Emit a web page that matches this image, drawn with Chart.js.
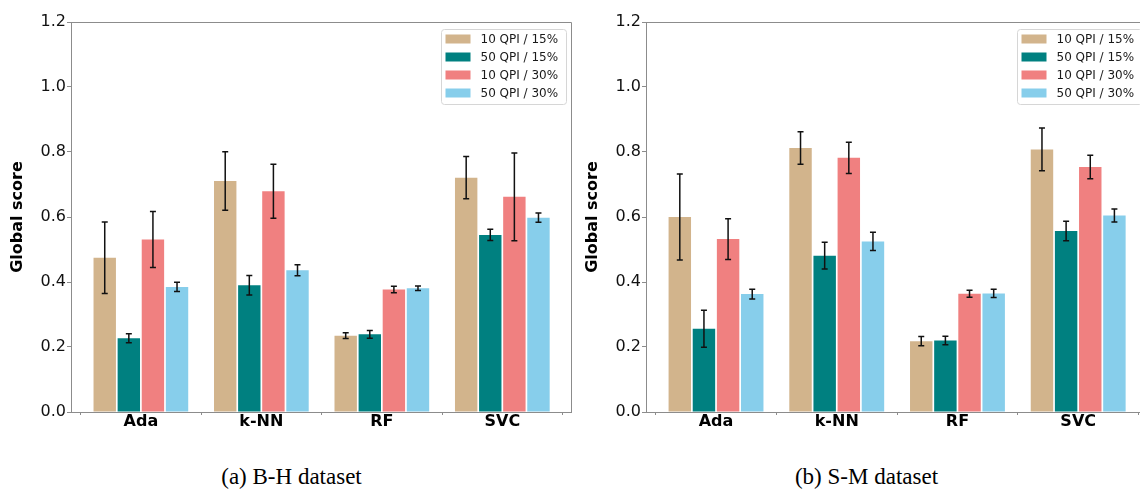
<!DOCTYPE html>
<html>
<head>
<meta charset="utf-8">
<script src="https://cdn.jsdelivr.net/npm/chart.js@4.4.0/dist/chart.umd.min.js"></script>
<style>
  html, body { margin: 0; padding: 0; background: #fff; width: 1140px; height: 489px; overflow: hidden; }
  #wrap { position: relative; width: 1140px; height: 489px; overflow: hidden; }
  canvas { position: absolute; top: 0; }
  #cL { left: 0; }
  #cR { left: 575px; }
  .cap { position: absolute; top: 465px; width: 300px; text-align: center; font-family: "Liberation Serif", "Times New Roman", serif; font-size: 23px; line-height: 24px; color: #000; }
</style>
</head>
<body>
<div id="wrap">
  <canvas id="cL" width="576" height="445"></canvas>
  <canvas id="cR" width="576" height="445"></canvas>
  <div class="cap" style="left:141.5px">(a) B-H dataset</div>
  <div class="cap" style="left:716.5px">(b) S-M dataset</div>
</div>
<script>
// ---- data ----
const categories = ['Ada', 'k-NN', 'RF', 'SVC'];
const seriesLabels = ['10 QPI / 15%', '50 QPI / 15%', '10 QPI / 30%', '50 QPI / 30%'];
const yTickValues = [0.0, 0.2, 0.4, 0.6, 0.8, 1.0, 1.2];
const yAxisTitle = 'Global score';

// (a) B-H dataset
const bhQ10p15 = [0.475, 0.711, 0.235, 0.721];
const bhQ10p15Err = [0.110, 0.090, 0.009, 0.065];
const bhQ50p15 = [0.227, 0.390, 0.239, 0.545];
const bhQ50p15Err = [0.014, 0.030, 0.012, 0.017];
const bhQ10p30 = [0.531, 0.679, 0.377, 0.662];
const bhQ10p30Err = [0.086, 0.083, 0.010, 0.135];
const bhQ50p30 = [0.385, 0.436, 0.381, 0.598];
const bhQ50p30Err = [0.014, 0.017, 0.007, 0.014];

// (b) S-M dataset
const smQ10p15 = [0.600, 0.812, 0.218, 0.808];
const smQ10p15Err = [0.132, 0.050, 0.014, 0.066];
const smQ50p15 = [0.256, 0.481, 0.220, 0.557];
const smQ50p15Err = [0.057, 0.041, 0.013, 0.030];
const smQ10p30 = [0.532, 0.782, 0.364, 0.754];
const smQ10p30Err = [0.063, 0.048, 0.011, 0.036];
const smQ50p30 = [0.363, 0.525, 0.365, 0.605];
const smQ50p30Err = [0.015, 0.028, 0.013, 0.020];

// ---- style ----
const seriesColors = ['#D2B48C', '#008080', '#F08080', '#87CEEB'];
const axisGray = '#8c8c8c';
const FONT = "'DejaVu Sans', sans-serif";

const errorBarPlugin = {
  id: 'errorBars',
  afterDatasetsDraw(chart) {
    const ctx = chart.ctx;
    const y = chart.scales.y;
    ctx.save();
    ctx.strokeStyle = '#111';
    ctx.lineWidth = 1.5;
    chart.data.datasets.forEach((ds, di) => {
      const meta = chart.getDatasetMeta(di);
      meta.data.forEach((bar, i) => {
        const v = ds.data[i].y, e = ds.errors[i];
        const yt = y.getPixelForValue(v + e), yb = y.getPixelForValue(v - e);
        const x = bar.x;
        ctx.beginPath();
        ctx.moveTo(x, yt); ctx.lineTo(x, yb);
        ctx.moveTo(x - 3, yt); ctx.lineTo(x + 3, yt);
        ctx.moveTo(x - 3, yb); ctx.lineTo(x + 3, yb);
        ctx.stroke();
      });
    });
    ctx.restore();
  }
};

const framePlugin = {
  id: 'frameAndLegend',
  afterDraw(chart) {
    const ctx = chart.ctx;
    const a = chart.chartArea;
    ctx.save();
    // top and right spines
    ctx.strokeStyle = axisGray;
    ctx.lineWidth = 1;
    ctx.beginPath();
    ctx.moveTo(Math.round(a.left) + 0.5, Math.round(a.top) + 0.5);
    ctx.lineTo(Math.round(a.right) + 0.5, Math.round(a.top) + 0.5);
    ctx.lineTo(Math.round(a.right) + 0.5, Math.round(a.bottom) + 0.5);
    ctx.stroke();
    // legend
    const w = 125, h = 75;
    const x0 = Math.round(a.right - 5.5 - w) + 0.5;
    const y0 = Math.round(a.top + 7) + 0.5;
    ctx.beginPath();
    if (ctx.roundRect) ctx.roundRect(x0, y0, w, h, 3); else ctx.rect(x0, y0, w, h);
    ctx.fillStyle = 'rgba(255,255,255,0.85)';
    ctx.fill();
    ctx.strokeStyle = '#d6d6d6';
    ctx.stroke();
    ctx.font = '12px ' + FONT;
    ctx.textBaseline = 'middle';
    ctx.textAlign = 'left';
    chart.data.datasets.forEach((ds, i) => {
      const cy = y0 + 9.5 + i * 18;
      ctx.fillStyle = ds.backgroundColor;
      ctx.fillRect(x0 + 4, cy - 4.5, 25, 9);
      ctx.fillStyle = '#1a1a1a';
      ctx.fillText(ds.label, x0 + 39, cy + 0.5);
    });
    ctx.restore();
  }
};

function makeChart(canvasId, seriesVals, seriesErrs, padRight) {
  const datasets = seriesVals.map((vals, s) => ({
    label: seriesLabels[s],
    data: vals.map((v, i) => ({ x: i, y: v })),
    errors: seriesErrs[s],
    backgroundColor: seriesColors[s],
    borderWidth: 0,
    categoryPercentage: 0.8,
    barPercentage: 0.93
  }));
  return new Chart(document.getElementById(canvasId), {
    type: 'bar',
    data: { datasets },
    plugins: [errorBarPlugin, framePlugin],
    options: {
      responsive: false,
      devicePixelRatio: 1,
      animation: false,
      layout: { padding: { left: 0, right: padRight, top: 22, bottom: 0 } },
      plugins: { legend: { display: false }, tooltip: { enabled: false } },
      scales: {
        x: {
          type: 'linear',
          offset: false,
          min: -0.58,
          max: 3.57,
          afterBuildTicks: (sc) => { sc.ticks = categories.map((c, i) => ({ value: i })); },
          afterFit: (sc) => { sc.height = 33; },
          grid: { display: true, drawOnChartArea: false, drawTicks: true, tickLength: 3, color: axisGray },
          border: { display: true, color: axisGray, width: 1 },
          ticks: {
            autoSkip: false,
            maxRotation: 0,
            padding: -1,
            color: '#000',
            font: { family: FONT, size: 16, weight: 'bold', lineHeight: 1 },
            callback: (v) => categories[v]
          }
        },
        y: {
          min: 0,
          max: 1.2,
          afterBuildTicks: (sc) => { sc.ticks = yTickValues.map(v => ({ value: v })); },
          afterFit: (sc) => { sc.width = 71; },
          grid: { display: true, drawOnChartArea: false, drawTicks: true, tickLength: 4, color: axisGray },
          border: { display: true, color: axisGray, width: 1 },
          ticks: {
            padding: 1,
            color: '#111',
            font: { family: FONT, size: 16 },
            callback: (v) => Number(v).toFixed(1)
          },
          title: {
            display: true,
            text: yAxisTitle,
            color: '#000',
            font: { family: FONT, size: 16, weight: 'bold' },
            padding: { top: 8, bottom: 0 }
          }
        }
      }
    }
  });
}

makeChart('cL',
  [bhQ10p15, bhQ50p15, bhQ10p30, bhQ50p30],
  [bhQ10p15Err, bhQ50p15Err, bhQ10p30Err, bhQ50p30Err], 5);
makeChart('cR',
  [smQ10p15, smQ50p15, smQ10p30, smQ50p30],
  [smQ10p15Err, smQ50p15Err, smQ10p30Err, smQ50p30Err], 4);
</script>
</body>
</html>
